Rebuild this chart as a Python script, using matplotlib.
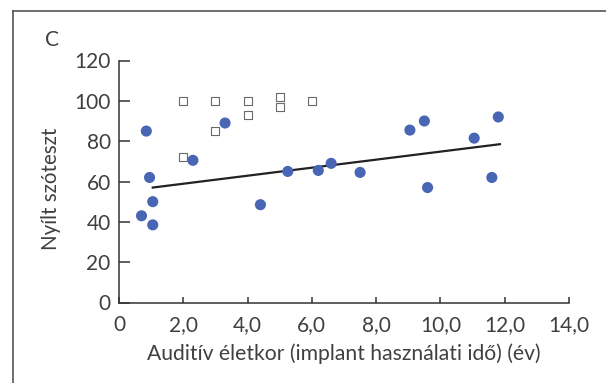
import matplotlib
matplotlib.use("Agg")
import matplotlib.pyplot as plt
from matplotlib.lines import Line2D

plt.rcParams['font.family'] = ['Lato', 'DejaVu Sans']

# Data: implanted children (filled circles)
circle_x = [0.7, 0.85, 0.95, 1.05, 1.05, 2.3, 3.3, 4.4, 5.25, 6.2, 6.6, 7.5,
            9.05, 9.5, 9.6, 11.05, 11.6, 11.8]
circle_y = [43, 85, 62, 50, 38.5, 70.5, 89, 48.5, 65, 65.5, 69, 64.5,
            85.5, 90, 57, 81.5, 62, 92]

# Data: comparison group (open squares)
square_x = [2.0, 2.0, 3.0, 3.0, 4.0, 4.0, 5.0, 5.0, 6.0]
square_y = [100, 72, 100, 85, 100, 93, 102, 97, 100]

# Regression line endpoints
fit_x = [1.05, 11.85]
fit_y = [57, 78.5]

xticks = [0, 2, 4, 6, 8, 10, 12, 14]
xticklabels = ['0', '2,0', '4,0', '6,0', '8,0', '10,0', '12,0', '14,0']
yticks = [0, 20, 40, 60, 80, 100, 120]
yticklabels = ['0', '20', '40', '60', '80', '100', '120']

text_color = '#404040'

fig = plt.figure(figsize=(6.06, 3.83), dpi=100)
ax = fig.add_axes([119/606, 1 - 302.5/383, (569-119)/606, (302.5-60.5)/383])

ax.plot(fit_x, fit_y, color='#222222', lw=1.6, zorder=2)
ax.scatter(square_x, square_y, marker='s', s=26, facecolors='white',
           edgecolors='#6a6a6a', linewidths=0.8, zorder=3)
ax.scatter(circle_x, circle_y, marker='o', s=64, color='#4866b4',
           edgecolors='none', zorder=4)

ax.set_xlim(0, 14)
ax.set_ylim(0, 120)
ax.set_xticks(xticks)
ax.set_xticklabels(xticklabels)
ax.set_yticks(yticks)
ax.set_yticklabels(yticklabels)

for s in ['top', 'right']:
    ax.spines[s].set_visible(False)
for s in ['left', 'bottom']:
    ax.spines[s].set_color('#333333')
    ax.spines[s].set_linewidth(1.1)

ax.tick_params(axis='y', direction='in', length=8, width=1.1, color='#333333',
               labelsize=15, labelcolor=text_color, pad=6)
ax.tick_params(axis='x', direction='in', length=4, width=1.1, color='#333333',
               labelsize=15, labelcolor=text_color, pad=9)

ax.set_xlabel('Auditív életkor (implant használati idő) (év)', fontsize=15.2,
              color=text_color, labelpad=6)
ax.set_ylabel('Nyílt szóteszt', fontsize=14.8, color=text_color)
ax.yaxis.set_label_coords(-0.129, 0.47)

fig.text(52/606, 1 - 40/383, 'C', fontsize=15, color=text_color,
         ha='center', va='center')

# Frame lines around the panel (top and left)
fig.add_artist(Line2D([13/606, 1.0], [1 - 11/383, 1 - 11/383],
                      transform=fig.transFigure, color='#555555', lw=1.2))
fig.add_artist(Line2D([13/606, 13/606], [0, 1 - 11/383],
                      transform=fig.transFigure, color='#555555', lw=1.2))

fig.savefig('out.png', dpi=100)
